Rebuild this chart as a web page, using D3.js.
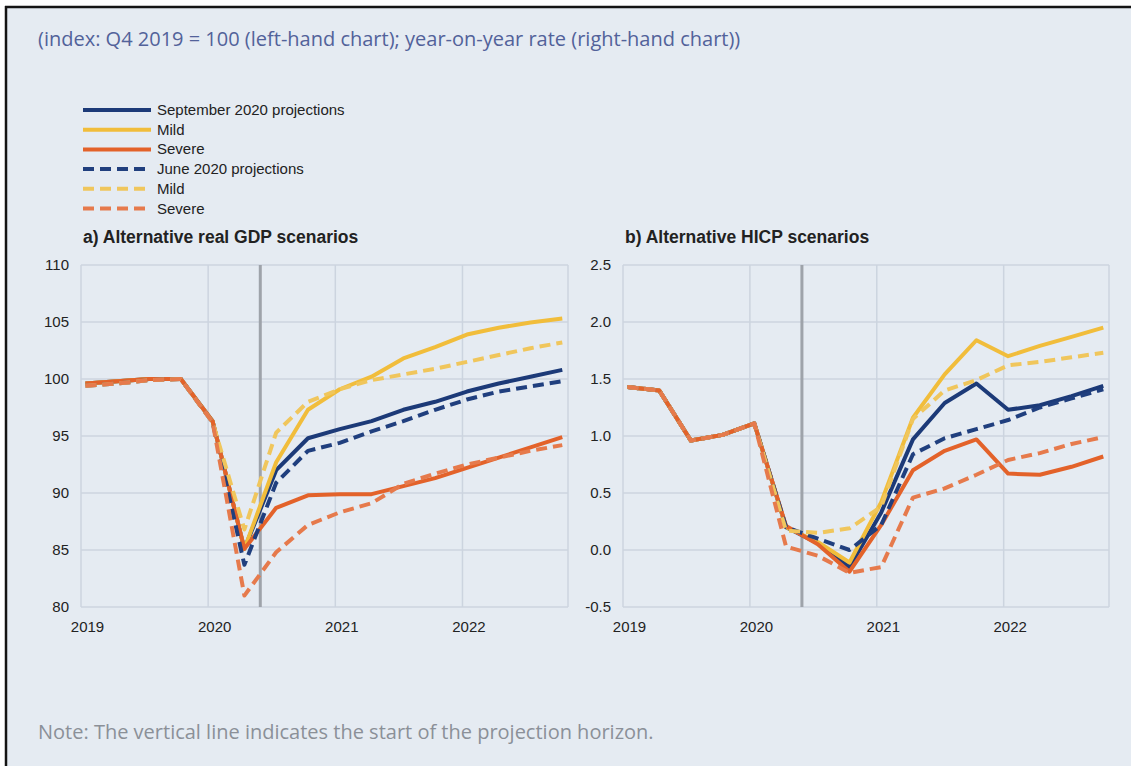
<!DOCTYPE html>
<html>
<head>
<meta charset="utf-8">
<script src="https://cdn.jsdelivr.net/npm/d3@7"></script>
<style>
  html, body { margin: 0; padding: 0; background: #ffffff; }
  svg { display: block; }
</style>
</head>
<body>
<svg id="chart" width="1131" height="766"></svg>
<script>
// ---- Data -------------------------------------------------------------
const quarters = [
  "2019Q1", "2019Q2", "2019Q3", "2019Q4",
  "2020Q1", "2020Q2", "2020Q3", "2020Q4",
  "2021Q1", "2021Q2", "2021Q3", "2021Q4",
  "2022Q1", "2022Q2", "2022Q3", "2022Q4"
];

// Real GDP, index Q4 2019 = 100
const gdpSepBaseline = [99.6, 99.8, 100.0, 100.0, 96.3, 85.1, 92.0, 94.8, 95.6, 96.3, 97.3, 98.0, 98.9, 99.6, 100.2, 100.8];
const gdpSepMild     = [99.6, 99.8, 100.0, 100.0, 96.3, 85.1, 92.7, 97.3, 99.1, 100.2, 101.8, 102.8, 103.9, 104.5, 104.95, 105.3];
const gdpSepSevere   = [99.6, 99.8, 100.0, 100.0, 96.3, 85.1, 88.7, 89.8, 89.9, 89.9, 90.6, 91.3, 92.2, 93.1, 94.0, 94.9];
const gdpJunBaseline = [99.4, 99.6, 99.9, 100.0, 96.2, 83.7, 90.9, 93.7, 94.4, 95.4, 96.3, 97.3, 98.2, 98.9, 99.35, 99.8];
const gdpJunMild     = [99.4, 99.6, 99.9, 100.0, 96.2, 86.8, 95.3, 98.0, 99.1, 99.9, 100.4, 100.9, 101.5, 102.1, 102.7, 103.2];
const gdpJunSevere   = [99.4, 99.6, 99.9, 100.0, 96.2, 81.0, 84.8, 87.2, 88.3, 89.1, 90.8, 91.7, 92.5, 93.1, 93.7, 94.2];

// HICP, year-on-year rate
const hicpSepBaseline = [1.43, 1.40, 0.96, 1.01, 1.11, 0.20, 0.06, -0.15, 0.33, 0.97, 1.29, 1.46, 1.23, 1.27, 1.35, 1.44];
const hicpSepMild     = [1.43, 1.40, 0.96, 1.01, 1.11, 0.20, 0.07, -0.11, 0.42, 1.16, 1.54, 1.84, 1.70, 1.79, 1.87, 1.95];
const hicpSepSevere   = [1.43, 1.40, 0.96, 1.01, 1.11, 0.21, 0.05, -0.19, 0.22, 0.70, 0.87, 0.97, 0.67, 0.66, 0.73, 0.82];
const hicpJunBaseline = [1.43, 1.40, 0.96, 1.01, 1.11, 0.20, 0.10, 0.00, 0.22, 0.84, 0.98, 1.06, 1.14, 1.25, 1.33, 1.41];
const hicpJunMild     = [1.43, 1.40, 0.96, 1.01, 1.11, 0.17, 0.15, 0.19, 0.38, 1.15, 1.40, 1.49, 1.62, 1.65, 1.69, 1.73];
const hicpJunSevere   = [1.43, 1.40, 0.96, 1.01, 1.11, 0.03, -0.05, -0.20, -0.15, 0.46, 0.54, 0.66, 0.79, 0.85, 0.93, 0.99];

const yearTicks = [2019, 2020, 2021, 2022];
const gdpTicks  = [80, 85, 90, 95, 100, 105, 110];
const hicpTicks = [-0.5, 0.0, 0.5, 1.0, 1.5, 2.0, 2.5];
const projectionStart = 2020.41;   // start of the projection horizon

const legendLabels = [
  "September 2020 projections", "Mild", "Severe",
  "June 2020 projections", "Mild", "Severe"
];

const subtitle = "(index: Q4 2019 = 100 (left-hand chart); year-on-year rate (right-hand chart))";
const note = "Note: The vertical line indicates the start of the projection horizon.";
const titleA = "a) Alternative real GDP scenarios";
const titleB = "b) Alternative HICP scenarios";

// ---- Styles -----------------------------------------------------------
const BG = "#e5ebf2";
const GRID = "#ccd4df";
const C = {
  blue: "#1c3a78", yellow: "#f1bd3b", orange: "#e3622a",
  blueD: "#203f7e", yellowD: "#f0c65c", orangeD: "#e67a4c"
};
const DASH = "11,6";
const SANS = "'Liberation Sans', Arial, sans-serif";
const OPEN = "'Open Sans', 'Noto Sans', sans-serif";

// Quarter label -> fractional year, point placed just inside the quarter
const qTime = q => +q.slice(0, 4) + (+q.slice(5) - 1) / 4 + 0.035;

// Number formats using a plain hyphen for negatives
const fmtInt = d3.format("d");
const fmtOne = d => d3.format(".1f")(d).replace("\u2212", "-");

const svg = d3.select("#chart");

// Panel background and frame
svg.append("rect").attr("x", 5).attr("y", 6).attr("width", 1126).attr("height", 760).attr("fill", BG);
svg.append("line").attr("x1", 5).attr("x2", 1131).attr("y1", 7).attr("y2", 7)
  .attr("stroke", "#141414").attr("stroke-width", 2.5);
svg.append("line").attr("x1", 6).attr("x2", 6).attr("y1", 6).attr("y2", 766)
  .attr("stroke", "#141414").attr("stroke-width", 2.5);

// Subtitle and note
svg.append("text").attr("x", 38).attr("y", 46)
  .attr("font-family", OPEN).attr("font-size", 20).attr("fill", "#52629a")
  .text(subtitle);
svg.append("text").attr("x", 38).attr("y", 739)
  .attr("font-family", OPEN).attr("font-size", 20).attr("fill", "#8b9098")
  .text(note);

// ---- Legend -----------------------------------------------------------
const legendItems = [
  { color: C.blue, dash: null }, { color: C.yellow, dash: null }, { color: C.orange, dash: null },
  { color: C.blueD, dash: DASH }, { color: C.yellowD, dash: DASH }, { color: C.orangeD, dash: DASH }
];
const legend = svg.append("g");
legendItems.forEach((it, i) => {
  const y = 110 + i * 19.7;
  legend.append("line").attr("x1", 83).attr("x2", 151).attr("y1", y).attr("y2", y)
    .attr("stroke", it.color).attr("stroke-width", 4)
    .attr("stroke-dasharray", it.dash);
  legend.append("text").attr("x", 157).attr("y", y + 5)
    .attr("font-family", SANS).attr("font-size", 15).attr("fill", "#222")
    .text(legendLabels[i]);
});

// ---- Panels -----------------------------------------------------------
function panel(opts) {
  const { x0, x1, y0, y1, yDomain, yTickVals, yFmt, title, series } = opts;
  const g = svg.append("g");
  const x = d3.scaleLinear().domain([2019, 2022.83]).range([x0, x1]);
  const y = d3.scaleLinear().domain(yDomain).range([y1, y0]);

  // Horizontal grid
  g.append("g").selectAll("line").data(yTickVals).join("line")
    .attr("x1", x0).attr("x2", x1)
    .attr("y1", d => y(d)).attr("y2", d => y(d))
    .attr("stroke", GRID).attr("stroke-width", 1.5);
  // Vertical grid at year starts, plus right edge
  g.append("g").selectAll("line").data(yearTicks).join("line")
    .attr("x1", d => x(d)).attr("x2", d => x(d))
    .attr("y1", y0).attr("y2", y1)
    .attr("stroke", GRID).attr("stroke-width", 1.5);
  g.append("line").attr("x1", x1).attr("x2", x1).attr("y1", y0).attr("y2", y1)
    .attr("stroke", GRID).attr("stroke-width", 1.5);

  // Y axis labels
  const yAxis = d3.axisLeft(y).tickValues(yTickVals).tickFormat(yFmt).tickSize(0).tickPadding(12);
  const ya = g.append("g").attr("transform", `translate(${x0},0)`).call(yAxis);
  ya.select(".domain").remove();
  ya.selectAll("text").attr("font-family", SANS).attr("font-size", 15).attr("fill", "#222");

  // X axis labels
  const xAxis = d3.axisBottom(x).tickValues(yearTicks).tickFormat(fmtInt).tickSize(0).tickPadding(14);
  const xa = g.append("g").attr("transform", `translate(0,${y1})`).call(xAxis);
  xa.select(".domain").remove();
  xa.selectAll("text").attr("font-family", SANS).attr("font-size", 15).attr("fill", "#222")
    .attr("dx", 6);

  // Projection start line
  g.append("line").attr("x1", x(projectionStart)).attr("x2", x(projectionStart))
    .attr("y1", y0).attr("y2", y1)
    .attr("stroke", "#9ea3aa").attr("stroke-width", 3);

  // Series
  const line = d3.line().x((d, i) => x(qTime(quarters[i]))).y(d => y(d));
  series.forEach(s => {
    g.append("path").datum(s.values)
      .attr("d", line)
      .attr("fill", "none")
      .attr("stroke", s.color)
      .attr("stroke-width", 4)
      .attr("stroke-linejoin", "round")
      .attr("stroke-dasharray", s.dash);
  });

  // Title
  svg.append("text").attr("x", x0 + 2).attr("y", 243)
    .attr("font-family", SANS).attr("font-size", 17.5).attr("font-weight", "bold")
    .attr("fill", "#222").text(title);
}

panel({
  x0: 81, x1: 568, y0: 265, y1: 607,
  yDomain: [80, 110], yTickVals: gdpTicks, yFmt: fmtInt,
  title: titleA,
  series: [
    { values: gdpSepBaseline, color: C.blue,    dash: null },
    { values: gdpSepMild,     color: C.yellow,  dash: null },
    { values: gdpSepSevere,   color: C.orange,  dash: null },
    { values: gdpJunBaseline, color: C.blueD,   dash: DASH },
    { values: gdpJunMild,     color: C.yellowD, dash: DASH },
    { values: gdpJunSevere,   color: C.orangeD, dash: DASH }
  ]
});

panel({
  x0: 623, x1: 1109, y0: 265, y1: 607,
  yDomain: [-0.5, 2.5], yTickVals: hicpTicks, yFmt: fmtOne,
  title: titleB,
  series: [
    { values: hicpSepBaseline, color: C.blue,    dash: null },
    { values: hicpSepMild,     color: C.yellow,  dash: null },
    { values: hicpSepSevere,   color: C.orange,  dash: null },
    { values: hicpJunBaseline, color: C.blueD,   dash: DASH },
    { values: hicpJunMild,     color: C.yellowD, dash: DASH },
    { values: hicpJunSevere,   color: C.orangeD, dash: DASH }
  ]
});
</script>
</body>
</html>
